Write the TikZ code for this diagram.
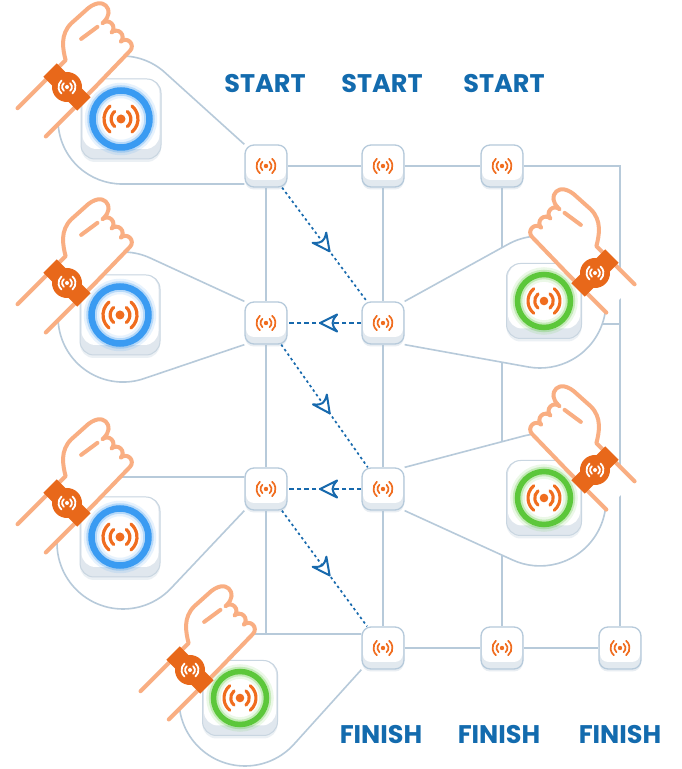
\documentclass[tikz,border=0pt]{standalone}
\usepackage{fontspec}
\setmainfont{Poppins}
\usetikzlibrary{decorations.markings,shadows}

\definecolor{wirec}{HTML}{B7CADA}
\definecolor{apline}{HTML}{B6CADB}
\definecolor{apbot}{HTML}{E2E9EF}
\definecolor{shadowc}{HTML}{B3C5D5}
\definecolor{padline}{HTML}{C9D6E1}
\definecolor{padbot}{HTML}{E0E7EE}
\definecolor{flowc}{HTML}{1769AD}
\definecolor{tagc}{HTML}{136BAE}
\definecolor{sigc}{HTML}{F06D1F}
\definecolor{ringblue}{HTML}{3A9BF2}
\definecolor{ringgreen}{HTML}{5CC73A}
\definecolor{skin}{HTML}{F9AE82}
\definecolor{strap}{HTML}{E8681A}

\pgfdeclarelayer{background}
\pgfsetlayers{background,main}

% outline of a fist on a forearm; arm along +y, thumb on the -x side
\newcommand\handline[1]{(-20,-#1) -- (-20,18)
  .. controls (-30,24) and (-42,32) .. (-42,48) -- (-41,66)
  .. controls (-41,80) and (-35,85) .. (-30,85)
  .. controls (-24,85) and (-20,80) .. (-20,72) -- (-20,70)
  arc[start angle=180, end angle=0, radius=6.5]
  arc[start angle=180, end angle=0, radius=6.5]
  arc[start angle=180, end angle=0, radius=6.5]
  -- (20,18) -- (20,-#1)}

\tikzset{
  wire/.style={draw=wirec, line width=1.6pt},
  lobe/.style={wire, fill=white, line join=round},
  ap/.style={rounded corners=9pt, minimum width=42pt, minimum height=42pt,
    inner sep=0pt, draw=apline, line width=1.3pt, fill=apbot,
    drop shadow={shadow xshift=0pt, shadow yshift=-2.5pt, opacity=.3, fill=shadowc},
    path picture={\fill[white, rounded corners=8pt]
      ([xshift=1pt,yshift=7pt]path picture bounding box.south west)
      rectangle ([xshift=-1pt]path picture bounding box.north east);}},
  pad/.style={rounded corners=14pt, inner sep=0pt, draw=padline, line width=1pt,
    fill=padbot,
    drop shadow={shadow xshift=0pt, shadow yshift=-3pt, opacity=.25, fill=shadowc},
    path picture={\fill[white, rounded corners=14pt]
      ([xshift=1.5pt,yshift=10pt]path picture bounding box.south west)
      rectangle ([xshift=-1.5pt]path picture bounding box.north east);}},
  bpad/.style={pad, minimum size=80pt},
  gpad/.style={pad, minimum size=75pt},
  flow/.style={draw=flowc, line width=1.7pt, postaction={decorate},
    decoration={markings, mark=at position 0.56 with
      {\draw[flowc, solid, line width=2pt, line join=round, fill=white]
        (0pt,0pt) -- (-17pt,8.5pt) .. controls (-13.5pt,4.5pt) and (-12.5pt,2pt) .. (-12.5pt,0pt)
        .. controls (-12.5pt,-2pt) and (-13.5pt,-4.5pt) .. (-17pt,-8.5pt) -- cycle;}}},
  dotflow/.style={flow, dash pattern=on 2.5pt off 3pt},
  dashflow/.style={flow, dash pattern=on 4.5pt off 3pt},
  tag/.style={text=tagc, font=\bfseries\fontsize{25.5}{28}\selectfont, inner sep=0pt},
  pics/sig/.style n args={4}{code={
    \fill[#2] (0,0) circle[radius=#4];
    \draw[#2, line width=#3, line cap=round]
      (-50:0.58*#1) arc[start angle=-50, end angle=50, radius=0.58*#1]
      (130:0.58*#1) arc[start angle=130, end angle=230, radius=0.58*#1]
      (-50:#1) arc[start angle=-50, end angle=50, radius=#1]
      (130:#1) arc[start angle=130, end angle=230, radius=#1];
  }},
  pics/ring/.style n args={3}{code={
    \draw[#1, line width=#3+9pt, opacity=.12] (0,0) circle[radius=#2];
    \draw[#1, line width=#3+4pt, opacity=.28] (0,0) circle[radius=#2];
    \draw[#1, line width=#3] (0,0) circle[radius=#2];
  }},
  pics/hand/.style={code={
    \fill[white] \handline{#1} -- cycle;
    \draw[skin, line width=4pt, line cap=round, line join=round] \handline{#1};
    \draw[skin, line width=4pt, line cap=round] (-24,44) -- (-21,64);
    \fill[strap] (-24,-9.5) rectangle (24,9.5);
    \fill[strap] (0,0) circle[radius=15];
  }}
}

\begin{document}
\begin{tikzpicture}[x=1pt, y=1pt]
\useasboundingbox (0,0) rectangle (682,769);

% access points
\node[ap] (A1) at (266,603) {};
\node[ap] (B1) at (383,603) {};
\node[ap] (C1) at (502,603) {};
\node[ap] (A2) at (266,446) {};
\node[ap] (B2) at (383,446) {};
\node[ap] (A3) at (266,280) {};
\node[ap] (B3) at (383,280) {};
\node[ap] (B4) at (383,121) {};
\node[ap] (C4) at (502,121) {};
\node[ap] (D4) at (620,121) {};
\coordinate (TR) at (620,603);
\coordinate (AB) at (266,135);
\coordinate (RJ) at (602.2,445);

\foreach \n in {A1,B1,C1,A2,B2,A3,B3,B4,C4,D4}
  \pic at (\n) {sig={9.5}{sigc}{1.7pt}{2.2}};

% cabling and coverage areas
\begin{pgfonlayer}{background}
  \fill[white] (0,0) rectangle (682,769);
  \draw[wire] (A1) -- (B1) -- (C1) -- (TR) -- (D4);
  \draw[wire] (A1) -- (A2) -- (A3) -- (AB);
  \draw[wire] (B1) -- (B2) -- (B3) -- (B4) -- (C4) -- (D4);
  \draw[wire] (C1) -- (C4);
  \draw[wire] (RJ) -- (RJ -| TR);

  \path[lobe] (A1.north west) -- (165,696.4)
    arc[start angle=47.8, end angle=270, radius=64] -- (A1.west |- 0,585);
  \path[lobe] (A2.north west) -- (150.4,510.9)
    arc[start angle=65.1, end angle=288.8, radius=65] -- (A2.south west);
  \path[lobe] (A3.west |- 0,292) -- (123,292)
    arc[start angle=90, end angle=316.6, radius=66] -- (A3.south west);
  \path[lobe] (B4.west |- 0,135) -- (245,135)
    arc[start angle=90, end angle=317.9, radius=66] -- (B4.south west);
  \path[lobe] (B2.north east) -- (508,524.7)
    arc[start angle=119, end angle=-100.4, radius=66] -- (B2.south east);
  \path[lobe] (B3.north east) -- (522.9,332.8)
    arc[start angle=105, end angle=-114.7, radius=66] -- (B3.south east);
\end{pgfonlayer}

% wearable readers
\node[bpad] (P1) at (121,650) {};
\node[bpad] (P2) at (120,454) {};
\node[bpad] (P3) at (120,232) {};
\node[gpad] (P4) at (240,71) {};
\node[gpad] (P5) at (544,468) {};
\node[gpad] (P6) at (544,271) {};
\foreach \p in {P1,P2,P3} {
  \pic at (\p) {ring={ringblue}{28.5}{6.5pt}};
  \pic at (\p) {sig={17}{sigc}{3.2pt}{4.5}};
}
\foreach \p in {P4,P5,P6} {
  \pic at (\p) {ring={ringgreen}{26.5}{5.5pt}};
  \pic at (\p) {sig={16}{sigc}{3.1pt}{4.3}};
}

% hand-over between access points
\draw[dotflow] (A1) -- (B2);
\draw[dashflow] (B2) -- (A2);
\draw[dotflow] (A2) -- (B3);
\draw[dashflow] (B3) -- (A3);
\draw[dotflow] (A3) -- (B4);

% labels
\node[tag] (S1) at (265,685) {START};
\node[tag] (S2) at (382,685) {START};
\node[tag] (S3) at (504,685) {START};
\node[tag] (F1) at (381,34) {FINISH};
\node[tag] (F2) at (499,34) {FINISH};
\node[tag] (F3) at (620,34) {FINISH};

% wristbands
\foreach \x/\y in {67/682, 67/486, 67/266, 190/99} {
  \pic[rotate=-45] at (\x,\y) {hand=50};
  \pic at (\x,\y) {sig={8.5}{white}{1.8pt}{2}};
}
\foreach \x/\y in {595/496, 595/299} {
  \pic[rotate=45, xscale=-1] at (\x,\y) {hand=36};
  \pic at (\x,\y) {sig={8.5}{white}{1.8pt}{2}};
}
\end{tikzpicture}
\end{document}
